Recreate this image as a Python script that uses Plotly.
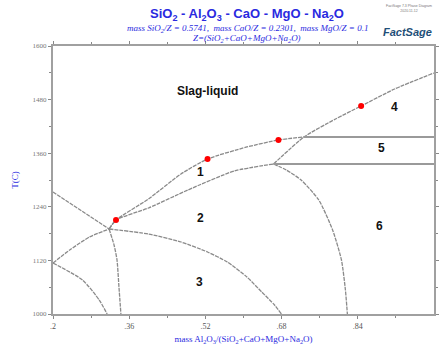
import plotly.graph_objects as go

# ---- data (x = mass Al2O3/Z, y = T in C) ----
curveA_x = [0.3178, 0.3323, 0.4005, 0.4687, 0.5245, 0.6072, 0.6734, 0.7271]
curveA_y = [1190.3, 1210.4, 1257.5, 1313.4, 1347.0, 1373.9, 1389.6, 1396.3]

curveB_x = [0.6631, 0.7271, 0.7933, 0.8470, 0.9173, 1.0]
curveB_y = [1335.8, 1396.3, 1436.6, 1465.7, 1503.7, 1539.6]

curveC_x = [0.3178, 0.3323, 0.4005, 0.4832, 0.5804, 0.6631]
curveC_y = [1190.3, 1210.4, 1237.3, 1277.6, 1320.1, 1335.8]

curveD_x = [0.3178, 0.4005, 0.4687, 0.5245, 0.5659, 0.6072, 0.6383, 0.6651, 0.6796]
curveD_y = [1190.3, 1179.1, 1161.2, 1138.8, 1116.4, 1082.8, 1049.3, 1020.1, 1000.0]

curveE_x = [0.6631, 0.6899, 0.7209, 0.7581, 0.7871, 0.8057, 0.8140, 0.8181]
curveE_y = [1335.8, 1322.4, 1300.0, 1255.2, 1188.1, 1120.9, 1053.7, 1000.0]

curveF_x = [0.3178, 0.3282, 0.3344, 0.3385, 0.3426]
curveF_y = [1190.3, 1154.5, 1120.9, 1060.4, 1000.0]

curveG_x = [0.2, 0.3178]
curveG_y = [1273.1, 1190.3]

curveH_x = [0.2, 0.2351, 0.2765, 0.3178]
curveH_y = [1114.2, 1143.3, 1172.4, 1190.3]

curveI_x = [0.2, 0.2620, 0.2972, 0.3137]
curveI_y = [1114.2, 1076.1, 1031.3, 1000.0]

hline_upper_x = [0.7271, 1.0]
hline_upper_y = [1396.3, 1396.3]
hline_lower_x = [0.6631, 1.0]
hline_lower_y = [1335.8, 1335.8]

dots_x = [0.3323, 0.5245, 0.6734, 0.8470]
dots_y = [1210.4, 1347.0, 1389.6, 1465.7]

region_labels = ["Slag-liquid", "1", "2", "3", "4", "5", "6"]
region_x = [0.5245, 0.510, 0.510, 0.508, 0.9173, 0.890, 0.8863]
region_y = [1499.2, 1317.9, 1214.9, 1071.6, 1463.4, 1371.6, 1197.0]

x_tickvals = [0.2, 0.36, 0.52, 0.68, 0.84]
x_ticktext = [".2", ".36", ".52", ".68", ".84"]
y_tickvals = [1000, 1120, 1240, 1360, 1480, 1600]
y_ticktext = ["1000", "1120", "1240", "1360", "1480", "1600"]

# ---- figure ----
fig = go.Figure()
line_style = dict(color="#8a8a8a", width=1.3, dash="4px,1px")
for xs, ys in [(curveA_x, curveA_y), (curveB_x, curveB_y), (curveC_x, curveC_y),
               (curveD_x, curveD_y), (curveE_x, curveE_y), (curveF_x, curveF_y),
               (curveG_x, curveG_y), (curveH_x, curveH_y), (curveI_x, curveI_y)]:
    fig.add_trace(go.Scatter(x=xs, y=ys, mode="lines", line=dict(line_style, shape="spline", smoothing=0.6),
                             showlegend=False, hoverinfo="skip"))
for xs, ys in [(hline_upper_x, hline_upper_y), (hline_lower_x, hline_lower_y)]:
    fig.add_trace(go.Scatter(x=xs, y=ys, mode="lines", line=dict(color="#9a9a9a", width=2),
                             showlegend=False, hoverinfo="skip"))
fig.add_trace(go.Scatter(x=dots_x, y=dots_y, mode="markers",
                         marker=dict(color="#ff0000", size=6), showlegend=False))

for lab, lx, ly in zip(region_labels, region_x, region_y):
    fig.add_annotation(x=lx, y=ly, text="<b>" + lab + "</b>", showarrow=False,
                       font=dict(family="Liberation Sans, Arial", size=12, color="#111111"))

blue = "#2a2ae0"
fig.add_annotation(xref="paper", yref="paper", x=0.51, y=1.0, yshift=32, xanchor="center", yanchor="middle",
                   text="<b>SiO<sub>2</sub> - Al<sub>2</sub>O<sub>3</sub> - CaO - MgO - Na<sub>2</sub>O</b>",
                   showarrow=False, font=dict(family="Liberation Sans, Arial", size=13, color=blue))
fig.add_annotation(xref="paper", yref="paper", x=0.51, y=1.0, yshift=18, xanchor="center", yanchor="middle",
                   text="<i>mass SiO<sub>2</sub>/Z = 0.5741,  mass CaO/Z = 0.2301,  mass MgO/Z = 0.1</i>",
                   showarrow=False, font=dict(family="Liberation Serif, Times New Roman", size=9, color=blue))
fig.add_annotation(xref="paper", yref="paper", x=0.51, y=1.0, yshift=8, xanchor="center", yanchor="middle",
                   text="<i>Z=(SiO<sub>2</sub>+CaO+MgO+Na<sub>2</sub>O)</i>",
                   showarrow=False, font=dict(family="Liberation Serif, Times New Roman", size=9, color=blue))
fig.add_annotation(xref="paper", yref="paper", x=1.0, y=1.0, yshift=14, xanchor="right", yanchor="middle",
                   text="<b><i>FactSage</i></b>", showarrow=False,
                   font=dict(family="Liberation Sans, Arial", size=11, color="#1f4f78"))
fig.add_annotation(xref="paper", yref="paper", x=1.0, y=1.0, yshift=38, xanchor="right", yanchor="middle",
                   text="FactSage 7.3 Phase Diagram<br>2020.11.12", showarrow=False,
                   font=dict(family="Liberation Sans, Arial", size=3.5, color="#777777"))

fig.update_layout(
    width=440, height=352,
    margin=dict(l=53, r=1, t=46, b=38),
    plot_bgcolor="white", paper_bgcolor="white",
    xaxis=dict(range=[0.2, 1.0], tickvals=x_tickvals, ticktext=x_ticktext,
               showgrid=False, zeroline=False, showline=True, linecolor="#a0a0a0", linewidth=2,
               mirror="ticks", ticks="outside", ticklen=3, tickcolor="#888",
               minor=dict(tickvals=[0.28, 0.44, 0.60, 0.76, 0.92], ticks="outside", ticklen=2, tickcolor="#888"),
               tickfont=dict(family="Liberation Serif, Times New Roman", size=8, color="#555"),
               title=dict(text="mass Al<sub>2</sub>O<sub>3</sub>/(SiO<sub>2</sub>+CaO+MgO+Na<sub>2</sub>O)",
                          font=dict(family="Liberation Serif, Times New Roman", size=9, color=blue),
                          standoff=6)),
    yaxis=dict(range=[1000, 1600], tickvals=y_tickvals, ticktext=y_ticktext,
               showgrid=False, zeroline=False, showline=True, linecolor="#a0a0a0", linewidth=2,
               mirror="ticks", ticks="outside", ticklen=3, tickcolor="#888",
               minor=dict(tickvals=[1060, 1180, 1300, 1420, 1540], ticks="outside", ticklen=2, tickcolor="#888"),
               tickfont=dict(family="Liberation Serif, Times New Roman", size=7, color="#777"),
               title=dict(text="T(C)", font=dict(family="Liberation Serif, Times New Roman", size=9, color=blue),
                          standoff=12)),
)

fig.write_html("out.html")
